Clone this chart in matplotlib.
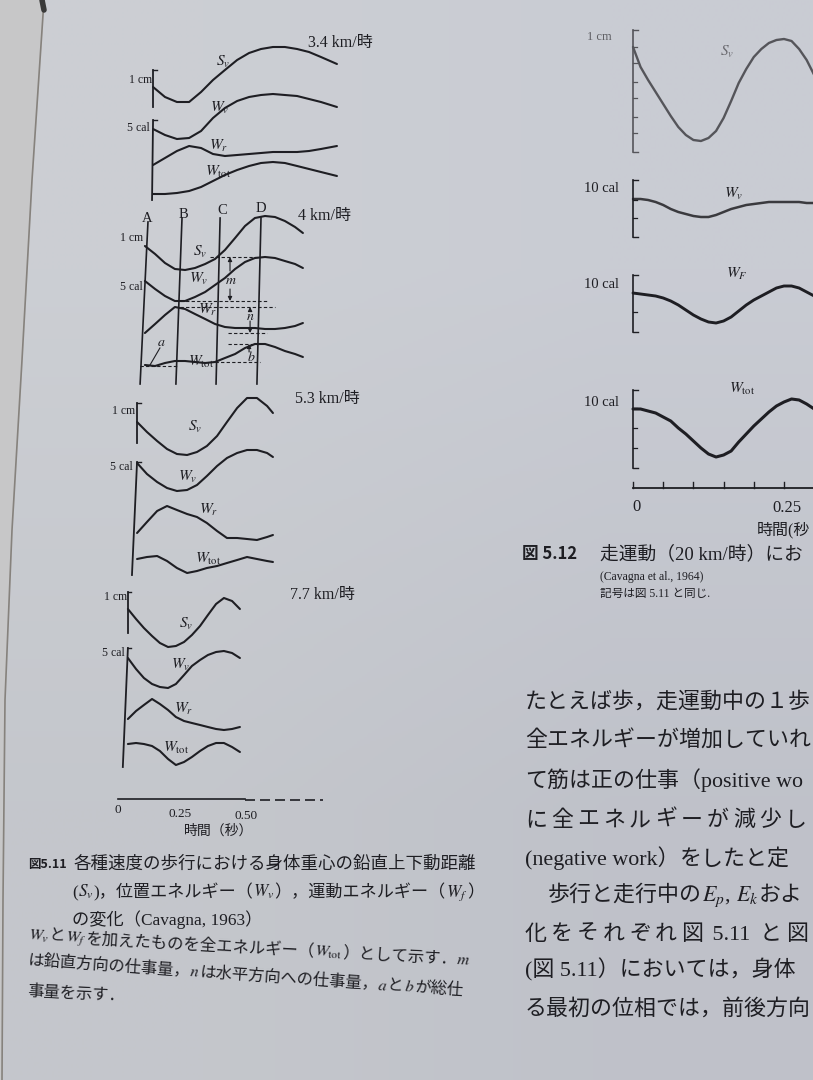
import numpy as np
import matplotlib
matplotlib.use("Agg")
import matplotlib.pyplot as plt

plt.rcParams['mathtext.fontset'] = 'stix'
SERIF = ['Liberation Serif', 'Noto Sans CJK JP']
GOTH = ['Noto Sans CJK JP', 'DejaVu Sans']
plt.rcParams['font.family'] = SERIF

W, H = 813, 1080
INK = '#1e1e23'

# ---------------- data ----------------
# Fig 5.11 (walking): time in s, curve traces as page height (px from top)
speeds = ['3.4 km/時', '4 km/時', '5.3 km/時', '7.7 km/時']

t_34 = [0.138, 0.185, 0.232, 0.280, 0.327, 0.374, 0.421, 0.469, 0.516, 0.563, 0.610, 0.657, 0.705, 0.752, 0.799, 0.862]
sv_34 = [87, 97, 102, 102, 92, 80, 70, 60, 53, 49, 47, 47, 49, 52, 57, 64]
wv_34 = [129, 135, 139, 138, 131, 118, 108, 101, 97, 95, 94, 95, 96, 99, 102, 107]
wr_34 = [165, 158, 151, 146, 148, 154, 156, 155, 154, 153, 152, 152, 152, 151, 149, 146]
wt_34 = [194, 194, 193, 191, 187, 181, 175, 170, 166, 163, 162, 163, 166, 169, 172, 176]

t_4 = [0.106, 0.146, 0.185, 0.224, 0.264, 0.303, 0.343, 0.382, 0.421, 0.461, 0.500, 0.539, 0.579, 0.618, 0.657, 0.697, 0.728]
sv_4 = [246, 254, 263, 269, 270, 268, 264, 259, 250, 238, 226, 218, 216, 217, 221, 227, 233]
wv_4 = [281, 289, 296, 301, 301, 297, 292, 285, 278, 269, 262, 258, 257, 258, 261, 264, 268]
wr_4 = [333, 324, 315, 307, 309, 314, 319, 324, 327, 328, 328, 328, 329, 329, 328, 326, 323]
wt_4 = [365, 366, 363, 361, 361, 362, 363, 362, 358, 354, 348, 344, 344, 347, 351, 354, 357]

t_53 = [0.075, 0.114, 0.154, 0.193, 0.232, 0.272, 0.311, 0.350, 0.390, 0.429, 0.469, 0.508, 0.547, 0.587, 0.610]
sv_53 = [422, 432, 441, 449, 454, 455, 452, 446, 436, 422, 408, 398, 398, 406, 413]
wv_53 = [463, 474, 482, 488, 491, 490, 485, 476, 466, 458, 453, 450, 450, 453, 457]
wr_53 = [533, 522, 511, 506, 510, 514, 517, 523, 531, 538, 538, 539, 540, 537, 535]
wt_53 = [559, 557, 556, 561, 568, 573, 571, 568, 566, 563, 560, 557, 559, 561, 562]

t_77 = [0.039, 0.071, 0.102, 0.134, 0.165, 0.197, 0.228, 0.260, 0.291, 0.323, 0.354, 0.386, 0.417, 0.449, 0.480]
sv_77 = [609, 619, 628, 636, 643, 647, 646, 642, 635, 626, 615, 604, 598, 601, 609]
wv_77 = [658, 669, 678, 684, 687, 688, 684, 675, 666, 660, 655, 652, 651, 653, 658]
wr_77 = [719, 711, 705, 699, 704, 710, 717, 721, 723, 725, 727, 729, 730, 729, 727]
wt_77 = [744, 743, 744, 746, 751, 759, 765, 762, 757, 751, 746, 743, 743, 747, 752]

phase_names = ['A', 'B', 'C', 'D']
phase_top = [0.118, 0.252, 0.402, 0.563]
phase_bot = [0.087, 0.228, 0.386, 0.547]

# Fig 5.12 (running 20 km/h)
t_run = [0, 0.0125, 0.025, 0.0375, 0.05, 0.0625, 0.075, 0.0875, 0.1, 0.1125, 0.125, 0.1375, 0.15,
         0.1625, 0.175, 0.1875, 0.2, 0.2125, 0.225, 0.2375, 0.25, 0.2625, 0.275, 0.2875, 0.3, 0.3125]
sv_run = [47, 67, 80, 92, 104, 116, 127, 135, 140, 141, 138, 131, 118,
          101, 83, 69, 57, 49, 43, 40, 39, 41, 49, 60, 75, 90]
wv_run = [199, 199, 200, 202, 205, 209, 212, 214, 216, 217, 217, 215, 212,
          209, 207, 205, 204, 203, 202, 202, 202, 202, 202, 203, 203, 204]
wf_run = [293, 294, 295, 296, 298, 301, 305, 310, 315, 319, 322, 323, 321,
          317, 311, 305, 300, 296, 292, 288, 286, 286, 288, 292, 296, 300]
wt_run = [409, 409, 411, 413, 417, 421, 428, 434, 441, 448, 454, 457, 455,
          451, 442, 434, 426, 419, 412, 406, 402, 399, 400, 404, 409, 414]

walk = [(t_34, sv_34, wv_34, wr_34, wt_34),
        (t_4, sv_4, wv_4, wr_4, wt_4),
        (t_53, sv_53, wv_53, wr_53, wt_53),
        (t_77, sv_77, wv_77, wr_77, wt_77)]

# ---------------- figure ----------------
fig = plt.figure(figsize=(W / 100, H / 100), dpi=100)
page = fig.add_axes([0, 0, 1, 1])
bg = np.array([[[0.80, 0.81, 0.83], [0.79, 0.80, 0.83]],
               [[0.77, 0.78, 0.80], [0.75, 0.76, 0.79]]])
page.imshow(bg, extent=(0, W, H, 0), interpolation='bilinear', aspect='auto', zorder=0)
page.set_xlim(0, W)
page.set_ylim(H, 0)
page.axis('off')

# page edge of the sheet underneath
edge_x = [44, 32, 22, 12, 5, 3, 2]
edge_y = [0, 180, 360, 530, 700, 900, 1080]
page.fill_betweenx(edge_y, 0, edge_x, color='#c7c7c8', zorder=1)
page.plot(edge_x, edge_y, color='#86827d', lw=1.2, zorder=2)
page.plot([42, 44], [0, 10], color='#3a3a3a', lw=4, solid_capstyle='round', zorder=2)

renderer = fig.canvas.get_renderer()


def time_axes(px0, px1, zero_px, px_per_s):
    ax = fig.add_axes([px0 / W, 0, (px1 - px0) / W, 1])
    ax.set_xlim((px0 - zero_px) / px_per_s, (px1 - zero_px) / px_per_s)
    ax.set_ylim(H, 0)
    ax.axis('off')
    return ax


def write(x, y, parts, size, slope=0.0, track=0.0, color=INK, weight='normal'):
    ang = np.arctan(slope)
    for s, fam in parts:
        txt = page.text(x, y, s, fontsize=size, family=fam, color=color, fontweight=weight,
                        ha='left', va='baseline', rotation_mode='anchor', zorder=5)
        w = txt.get_window_extent(renderer).width + track
        txt.set_rotation(-np.degrees(ang))
        x += w * np.cos(ang)
        y += w * np.sin(ang)
    return x


def chars(s, fam=GOTH):
    return [(c, fam) for c in s]


# ---- Fig 5.11 curves ----
axL = time_axes(40, 440, 118, 254)
for t, *curves in walk:
    for y in curves:
        axL.plot(t, y, color=INK, lw=1.5, solid_capstyle='round', solid_joinstyle='round')

# scale bars at the start of each trace group
cap = 0.014
for t, (s_top, s_bot), (w_top, w_bot, lean) in [
        (t_34, (70, 107), (120, 200, 0.004)),
        (t_53, (403, 443), (462, 575, 0.02)),
        (t_77, (592, 633), (648, 767, 0.02))]:
    t0 = t[0]
    axL.plot([t0, t0], [s_top, s_bot], color=INK, lw=1.3)
    axL.plot([t0, t0 + cap], [s_top, s_top], color=INK, lw=1.0)
    axL.plot([t0, t0 - lean], [w_top, w_bot], color=INK, lw=1.3)
    axL.plot([t0, t0 + cap], [w_top, w_top], color=INK, lw=1.0)

# 4 km/h phase lines A-D
for tt, tb in zip(phase_top, phase_bot):
    axL.plot([tt, tb], [222 if tt < 0.2 else 218, 384], color=INK, lw=1.2)

wv4, wr4, wt4 = np.array(wv_4), np.array(wr_4), np.array(wt_4)
dash = dict(color=INK, lw=0.8, ls=(0, (3, 2)))
for level, ta, tb in [(wv4.min(), 0.362, 0.559), (wv4.max(), 0.244, 0.591),
                      (wr4.min(), 0.244, 0.618), (wr4.max(), 0.433, 0.587),
                      (wt4.min(), 0.433, 0.559), (wt4[7], 0.382, 0.559),
                      (wt4.max(), 0.087, 0.232)]:
    axL.plot([ta, tb], [level, level], **dash)

arr = dict(arrowstyle='-|>', lw=0.8, color=INK, mutation_scale=6, shrinkA=0, shrinkB=0)
axL.annotate('', xy=(0.441, wv4.min()), xytext=(0.441, 271), arrowprops=arr)
axL.annotate('', xy=(0.441, wv4.max()), xytext=(0.441, 289), arrowprops=arr)
axL.annotate('', xy=(0.520, wr4.min()), xytext=(0.520, 311), arrowprops=arr)
axL.annotate('', xy=(0.520, wr4.max()), xytext=(0.520, 321), arrowprops=arr)
axL.annotate('', xy=(0.516, wt4.min()), xytext=(0.516, 352), arrowprops=arr)
axL.plot([0.165, 0.126], [348, 365], color=INK, lw=0.8)

# time axis
axL.plot([0, 0.5], [799, 799], color=INK, lw=1.2)
axL.plot([0.5, 0.807], [800, 800], color=INK, lw=1.2, ls=(0, (6, 3)))

# ---- Fig 5.11 text ----
for s, (x, y) in zip(speeds, [(308, 43), (298, 216), (295, 399), (290, 595)]):
    page.text(x, y, s, fontsize=11.5, va='center', ha='left', color=INK)
for (x1, y1), (x2, y2) in [((152, 80), (150, 128)), ((143, 238), (143, 287)),
                           ((135, 411), (133, 467)), ((127, 597), (125, 653))]:
    page.text(x1, y1, '1 cm', fontsize=8.5, ha='right', va='center', color=INK)
    page.text(x2, y2, '5 cal', fontsize=8.5, ha='right', va='center', color=INK)

labels = [r'$S_v$', r'$W_v$', r'$W_r$', r'$W_{\rm tot}$']
label_pos = [[(223, 62), (220, 108), (219, 146), (218, 172)],
             [(200, 252), (199, 279), (208, 310), (201, 362)],
             [(195, 427), (188, 477), (209, 510), (208, 559)],
             [(186, 624), (181, 665), (184, 709), (176, 748)]]
for row in label_pos:
    for lab, (x, y) in zip(labels, row):
        page.text(x, y, lab, fontsize=11, ha='center', va='center', color=INK)

for name, (x, y) in zip(phase_names, [(147, 218), (183, 215), (222, 210), (261, 208)]):
    page.text(x, y, name, fontsize=10.5, ha='center', va='center', color=INK)
for s, (x, y) in zip(['m', 'n', 'a', 'b'], [(231, 281), (250, 316), (161, 342), (251, 357)]):
    page.text(x, y, '$' + s + '$', fontsize=10, ha='center', va='center', color=INK)

for s, (x, y) in zip(['0', '0.25', '0.50'], [(118, 810), (180, 814), (246, 816)]):
    page.text(x, y, s, fontsize=9.5, ha='center', va='center', color=INK)
page.text(219, 831, '時間（秒）', fontsize=10, ha='center', va='center', family=GOTH, color=INK)

# caption 5.11
write(28, 868, [('図5.11', GOTH)], 9, weight='bold')
write(73, 869, [('各種速度の歩行における身体重心の鉛直上下動距離', GOTH)], 12.6)
write(72, 897, [('(', SERIF), (r'$S_v$', SERIF), (')，位置エネルギー（', SERIF), (r'$W_v$', SERIF),
                ('），運動エネルギー（', SERIF), (r'$W_f$', SERIF), ('）', SERIF)], 12.3)
write(72, 925, [('の変化（Cavagna, 1963）', SERIF)], 12.4)
write(28, 940, [(r'$W_v$', SERIF), ('と', GOTH), (r'$W_f$', SERIF), ('を加えたものを全エネルギー（', GOTH),
                (r'$W_{\rm tot}$', SERIF), ('）として示す．', GOTH), (r'$m$', SERIF)], 11.8, slope=0.055)
write(27, 965, [('は鉛直方向の仕事量，', GOTH), (r'$n\,$', SERIF), ('は水平方向への仕事量，', GOTH),
                (r'$a\,$', SERIF), ('と', GOTH), (r'$\,b\,$', SERIF), ('が総仕', GOTH)], 11.7, slope=0.07)
write(27, 996, [('事量を示す．', GOTH)], 11.7, slope=0.05)

# ---- Fig 5.12 curves ----
axR = time_axes(560, 1000, 633, 604)
axR.plot(t_run, sv_run, color='#55555a', lw=1.7, solid_capstyle='round', solid_joinstyle='round')
axR.plot(t_run, wv_run, color='#3a3a3e', lw=1.8, solid_capstyle='round', solid_joinstyle='round')
axR.plot(t_run, wf_run, color=INK, lw=2.1, solid_capstyle='round', solid_joinstyle='round')
axR.plot(t_run, wt_run, color=INK, lw=2.2, solid_capstyle='round', solid_joinstyle='round')

for top, bot, ticks, col in [(30, 152, [47, 63, 82, 98, 117, 133], '#55555a'),
                             (180, 237, [200, 218], INK),
                             (275, 332, [293, 312], INK),
                             (390, 468, [408, 428, 448], INK)]:
    axR.plot([0, 0], [top, bot], color=col, lw=1.2)
    axR.plot([0, 0.009], [top, top], color=col, lw=1.0)
    axR.plot([0, 0.009], [bot, bot], color=col, lw=1.0)
    for yy in ticks:
        axR.plot([0, 0.006], [yy, yy], color=col, lw=0.9)

axR.plot([0, 0.4], [488, 488], color=INK, lw=1.3)
for tk in np.arange(0, 0.4, 0.05):
    axR.plot([tk, tk], [482, 488], color=INK, lw=1.0)

page.text(599, 37, '1 cm', fontsize=9, ha='center', va='center', color='#606065')
for y in [189, 284, 402]:
    page.text(601, y, '10 cal', fontsize=10.5, ha='center', va='center', color=INK)
for lab, (x, y), col in zip([r'$S_v$', r'$W_v$', r'$W_F$', r'$W_{\rm tot}$'],
                            [(727, 52), (734, 194), (737, 274), (742, 389)],
                            ['#6a6a6f', INK, INK, INK]):
    page.text(x, y, lab, fontsize=11, ha='center', va='center', color=col)
page.text(636, 507, '0', fontsize=12, ha='center', va='center', color=INK)
page.text(787, 508, '0.25', fontsize=12, ha='center', va='center', color=INK)
page.text(757, 530, '時間(秒', fontsize=11.5, ha='left', va='center', color=INK)

# caption 5.12
write(522, 559, [('図 5.12', GOTH)], 12, weight='bold')
write(600, 559, [('走運動（20 km/時）にお', SERIF)], 13.5)
write(600, 580, [('(Cavagna et al., 1964)', SERIF)], 8.4)
write(600, 597, [('記号は図 5.11 と同じ.', SERIF)], 8.4)

# ---- body text ----
BODY = 15.8
write(525, 708, [('たとえば歩，走運動中の１歩', GOTH)], BODY)
write(525, 747, [('全エネルギーが増加していれ', GOTH)], BODY)
write(525, 787, [('て筋は正の仕事（', GOTH), ('positive wo', SERIF)], BODY)
write(525, 826, chars('に全エネルギーが減少し'), BODY, track=4)
write(525, 865, [('(negative work）', SERIF), ('をしたと定', GOTH)], BODY)
write(548, 901, [('歩行と走行中の', GOTH), (r'$E_p$', SERIF), (', ', SERIF), (r'$E_k$', SERIF),
                 ('およ', GOTH)], BODY)
write(525, 940, chars('化をそれぞれ図') + [(' 5.11 ', SERIF)] + chars('と図'), BODY, track=4)
write(525, 976, [('(図 5.11）においては，身体', SERIF)], BODY)
write(525, 1015, [('る最初の位相では，前後方向', GOTH)], BODY)

fig.savefig('out.png', dpi=100)
